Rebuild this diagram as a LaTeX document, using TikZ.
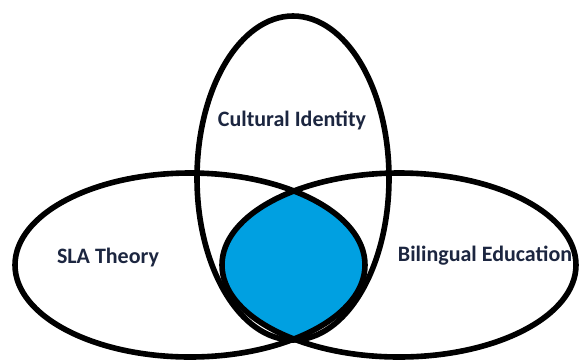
\documentclass[tikz,border=0pt]{standalone}
\usepackage{fontspec}
\setmainfont{Carlito}
\definecolor{lensblue}{HTML}{00A0E1}
\definecolor{labelnavy}{HTML}{1C2640}
\begin{document}
\begin{tikzpicture}[x=1pt,y=-1pt,
  ring/.style={draw=black,line width=5.6pt},
  lbl/.style={font=\fontsize{22}{26}\selectfont\bfseries,text=labelnavy,inner sep=0pt}]
\useasboundingbox (0,0) rectangle (581,360);
\fill[white] (0,0) rectangle (581,360);
% blue lens: intersection of left and right ellipses
\begin{scope}
  \clip (190,265) ellipse [x radius=175, y radius=92];
  \fill[lensblue] (399,265) ellipse [x radius=177, y radius=92];
\end{scope}
\draw[ring] (293,178) ellipse [x radius=96, y radius=162];
\draw[ring] (190,265) ellipse [x radius=175, y radius=92];
\draw[ring] (399,265) ellipse [x radius=177, y radius=92];
\node[lbl] (ci) at (292,120) {Cultural Identity};
\node[lbl] (sla) at (108,258) {SLA Theory};
\node[lbl] (be) at (485,256) {Bilingual Education};
\end{tikzpicture}
\end{document}
